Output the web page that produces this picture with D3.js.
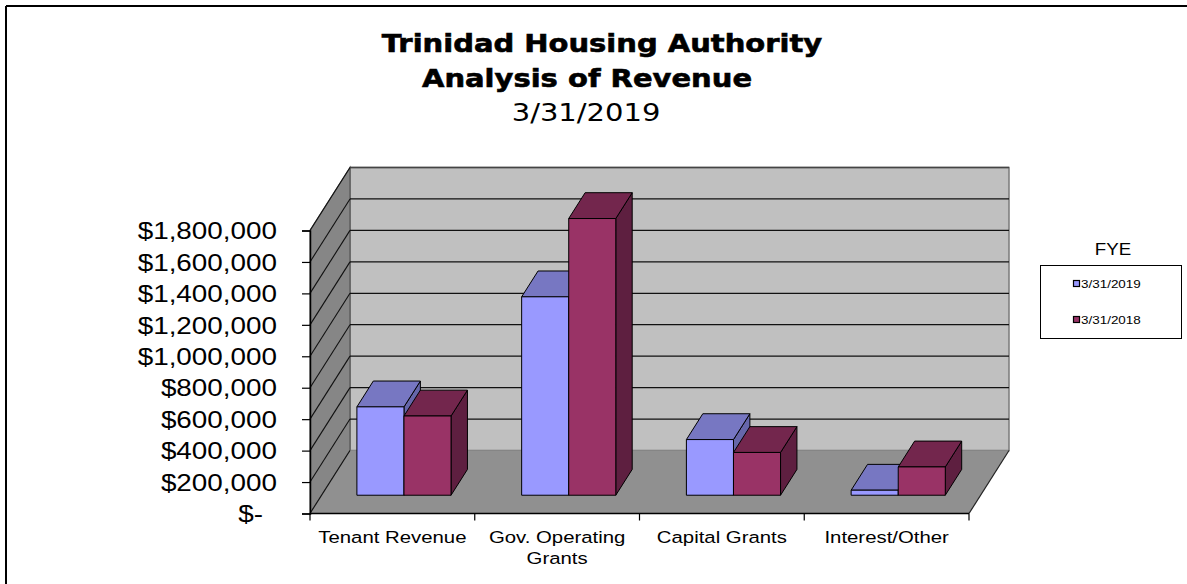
<!DOCTYPE html>
<html><head><meta charset="utf-8">
<script src="https://cdn.jsdelivr.net/npm/d3@7"></script>
<style>body{margin:0;background:#fff;overflow:hidden}</style>
</head><body>
<svg id="chart" width="1187" height="584"></svg>
<script>
// ---- data ----
const categories = ["Tenant Revenue", "Gov. Operating Grants", "Capital Grants", "Interest/Other"];
const categoryLabelLines = [["Tenant Revenue"], ["Gov. Operating", "Grants"], ["Capital Grants"], ["Interest/Other"]];
const seriesNames = ["3/31/2019", "3/31/2018"];
const fye2019 = [562000, 1262000, 354000, 32000];
const fye2018 = [504000, 1760000, 272000, 180000];
const yTicks = [0, 200000, 400000, 600000, 800000, 1000000, 1200000, 1400000, 1600000, 1800000];
const titleLines = ["Trinidad Housing Authority", "Analysis of Revenue", "3/31/2019"];
const legendTitle = "FYE";

// ---- styles ----
const series = [
  {name: seriesNames[0], values: fye2019, front: "#9999FF", top: "#7777C2", side: "#6666AA"},
  {name: seriesNames[1], values: fye2018, front: "#993366", top: "#73264D", side: "#5E1F40"}
];
const SX = 1.17; // horizontal text stretch of the original
const svg = d3.select("#chart");

// outer border (top + left)
svg.append("line").attr("x1", 6).attr("y1", 6).attr("x2", 1187).attr("y2", 6).attr("stroke", "#000").attr("stroke-width", 2);
svg.append("line").attr("x1", 6).attr("y1", 6).attr("x2", 6).attr("y2", 584).attr("stroke", "#000").attr("stroke-width", 2);

// scales
const x = d3.scaleBand().domain(categories).range([310, 969]).padding(0);
const y = d3.scaleLinear().domain([0, 1800000]).range([513.5, 230.5]);
const DX = 40, DY = 63;
const P = (px, v, z) => [px + z * DX, y(v) - z * DY];
const poly = pts => "M" + pts.map(p => p.join(",")).join("L") + "Z";
const x0 = x.range()[0], x1 = x.range()[1], vMax = y.domain()[1];

const g = svg.append("g");
// walls and floor
g.append("path").attr("d", poly([P(x0, 0, 1), P(x1, 0, 1), P(x1, vMax, 1), P(x0, vMax, 1)]))
  .attr("fill", "#C0C0C0").attr("stroke", "#7a7a7a").attr("stroke-width", 1.5);
g.append("path").attr("d", poly([P(x0, 0, 0), P(x0, 0, 1), P(x0, vMax, 1), P(x0, vMax, 0)]))
  .attr("fill", "#868686").attr("stroke", "#555").attr("stroke-width", 1.2);
g.append("path").attr("d", poly([P(x0, 0, 0), P(x1, 0, 0), P(x1, 0, 1), P(x0, 0, 1)]))
  .attr("fill", "#909090").attr("stroke", "none");

// gridlines on back wall and side wall
yTicks.forEach(v => {
  const a = P(x0, v, 1), b = P(x1, v, 1), c = P(x0, v, 0);
  if (v > 0) {
    g.append("line").attr("x1", a[0]).attr("y1", a[1]).attr("x2", b[0]).attr("y2", b[1])
      .attr("stroke", v === vMax ? "#444" : "#111").attr("stroke-width", 1.3);
  }
  g.append("line").attr("x1", c[0]).attr("y1", c[1]).attr("x2", a[0]).attr("y2", a[1])
    .attr("stroke", "#111").attr("stroke-width", 1.1);
});
// floor right edge
{
  const a = P(x1, 0, 0), b = P(x1, 0, 1);
  g.append("line").attr("x1", a[0]).attr("y1", a[1]).attr("x2", b[0]).attr("y2", b[1]).attr("stroke", "#222").attr("stroke-width", 1.2);
}

// bars
const bw = x.bandwidth() / 3.5;
const z0 = 0.29, z1 = 0.70;
const bars = [];
categories.forEach((c, i) => {
  series.forEach((s, si) => {
    bars.push({c, i, si, s, v: s.values[i], xa: x(c) + 0.75 * bw + si * bw});
  });
});
const bg = g.append("g").attr("stroke", "#000").attr("stroke-width", 1).attr("stroke-linejoin", "round");
bars.forEach(d => {
  const xa = d.xa, xb = d.xa + bw, v = d.v;
  bg.append("path").attr("d", poly([P(xb, 0, z0), P(xb, v, z0), P(xb, v, z1), P(xb, 0, z1)])).attr("fill", d.s.side);
  bg.append("path").attr("d", poly([P(xa, v, z0), P(xb, v, z0), P(xb, v, z1), P(xa, v, z1)])).attr("fill", d.s.top);
  bg.append("path").attr("d", poly([P(xa, 0, z0), P(xb, 0, z0), P(xb, v, z0), P(xa, v, z0)])).attr("fill", d.s.front);
});

// y axis
const yAxis = d3.axisLeft(y).tickValues(yTicks).tickSize(8).tickPadding(0)
  .tickFormat(v => v === 0 ? "$-" : "$" + d3.format(",")(v));
const ya = svg.append("g").attr("transform", "translate(310,0)").call(yAxis);
ya.select(".domain").attr("stroke", "#000").attr("stroke-width", 1.5);
ya.selectAll(".tick line").attr("stroke", "#000").attr("stroke-width", 1.2);
ya.selectAll(".tick text")
  .attr("x", null).attr("dy", null)
  .attr("transform", v => `translate(${v === 0 ? -47 : -33},0) scale(${SX},1)`)
  .attr("dominant-baseline", "central")
  .attr("font-family", "'Liberation Sans', Arial, sans-serif").attr("font-size", 23.8).attr("fill", "#000");

// x axis
const xa = svg.append("g");
xa.append("line").attr("x1", x0).attr("x2", x1).attr("y1", y(0)).attr("y2", y(0)).attr("stroke", "#000").attr("stroke-width", 1.5);
const bounds = categories.map(c => x(c)).concat([x1]);
xa.selectAll(".xt").data(bounds).join("line").attr("class", "xt")
  .attr("x1", d => d).attr("x2", d => d).attr("y1", y(0)).attr("y2", y(0) + 7)
  .attr("stroke", "#000").attr("stroke-width", 1.2);
categories.forEach((c, i) => {
  const cx = x(c) + x.bandwidth() / 2;
  categoryLabelLines[i].forEach((ln, k) => {
    svg.append("text").attr("transform", `translate(${cx},${543 + k * 21}) scale(${SX},1)`)
      .attr("text-anchor", "middle").attr("font-family", "'Liberation Sans', Arial, sans-serif")
      .attr("font-size", 17.4).attr("fill", "#000").text(ln);
  });
});

// title
const tBase = [52, 87, 121];
const tCx = [602, 587, 586];
titleLines.forEach((t, k) => {
  svg.append("text").attr("transform", `translate(${tCx[k]},${tBase[k]}) scale(1.16,1)`)
    .attr("text-anchor", "middle").attr("font-family", "'DejaVu Sans', Verdana, sans-serif")
    .attr("font-weight", k < 2 ? "bold" : "normal").attr("font-size", 25).attr("fill", "#000")
    .attr("stroke", k < 2 ? "#000" : "none").attr("stroke-width", 0.6).text(t);
});

// legend
svg.append("text").attr("transform", `translate(1113,255) scale(${SX},1)`).attr("text-anchor", "middle")
  .attr("font-family", "'Liberation Sans', Arial, sans-serif").attr("font-size", 16).text(legendTitle);
svg.append("rect").attr("x", 1040.5).attr("y", 265.5).attr("width", 141).attr("height", 73)
  .attr("fill", "#fff").attr("stroke", "#000").attr("stroke-width", 1);
series.forEach((s, k) => {
  const yy = 284 + k * 36;
  svg.append("rect").attr("x", 1073.5).attr("y", yy - 3.5).attr("width", 6).attr("height", 6)
    .attr("fill", s.front).attr("stroke", "#000").attr("stroke-width", 1.2);
  svg.append("text").attr("transform", `translate(1081,${yy}) scale(${SX},1)`).attr("dominant-baseline", "central")
    .attr("font-family", "'Liberation Sans', Arial, sans-serif").attr("font-size", 11.5).text(s.name);
});
</script>
</body></html>
